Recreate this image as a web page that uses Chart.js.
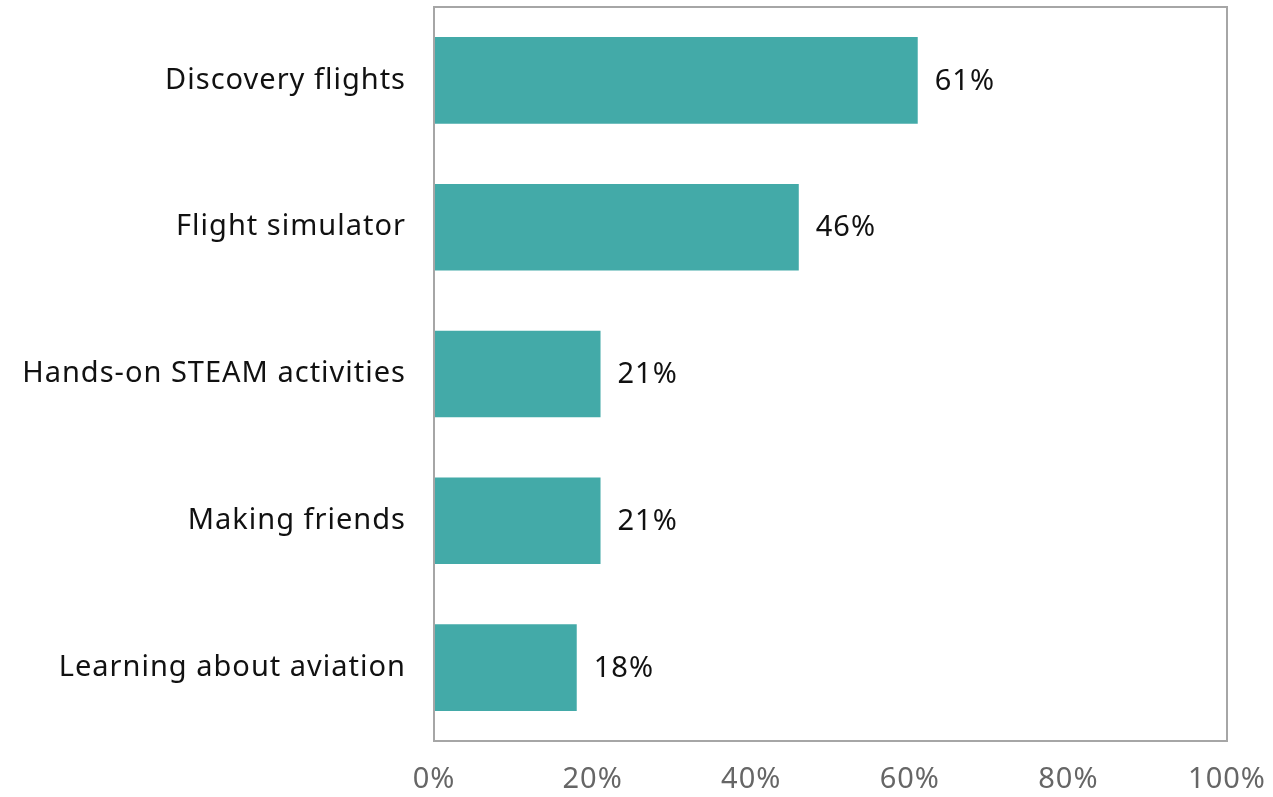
<!DOCTYPE html>
<html>
<head>
<meta charset="utf-8">
<script src="https://cdn.jsdelivr.net/npm/chart.js@4"></script>
<style>
  html, body { margin: 0; padding: 0; background: #fff; }
  #wrap { position: relative; width: 1273px; height: 797px; }
</style>
</head>
<body>
<div id="wrap"><canvas id="chart"></canvas></div>
<script>
// Program activity ratings, horizontal bars with value labels
const categories = [
  'Discovery flights',
  'Flight simulator',
  'Hands-on STEAM activities',
  'Making friends',
  'Learning about aviation'
];
const shares = [61, 46, 21, 21, 18];
const tickValues = [0, 20, 40, 60, 80, 100];

const FONT = '"Noto Sans", Lato, sans-serif';
const SIZE = 29;

function noPadding(scale) {
  scale.paddingLeft = 0;
  scale.paddingRight = 0;
  scale.paddingTop = 0;
  scale.paddingBottom = 0;
}

// slightly airy text, box around the plot area, "NN%" labels after each bar
const extrasPlugin = {
  id: 'extras',
  beforeDraw(chart) {
    chart.ctx.letterSpacing = '1px';
  },
  afterDatasetsDraw(chart) {
    const ctx = chart.ctx;
    const a = chart.chartArea;
    ctx.save();
    ctx.strokeStyle = '#a6a6a6';
    ctx.lineWidth = 2;
    ctx.strokeRect(a.left, a.top, a.right - a.left, a.bottom - a.top);

    ctx.font = SIZE + 'px ' + FONT;
    ctx.fillStyle = '#111';
    ctx.textAlign = 'left';
    ctx.textBaseline = 'middle';
    chart.getDatasetMeta(0).data.forEach((bar, i) => {
      ctx.fillText(shares[i] + '%', bar.x + 17, bar.y + 1);
    });
    ctx.restore();
  }
};

new Chart(document.getElementById('chart'), {
  type: 'bar',
  data: {
    labels: categories,
    datasets: [{
      data: shares,
      backgroundColor: '#43aaa8',
      borderWidth: 0,
      categoryPercentage: 1,
      barPercentage: 0.59
    }]
  },
  options: {
    indexAxis: 'y',
    responsive: true,
    maintainAspectRatio: false,
    animation: false,
    layout: { padding: { top: 7, right: 46, left: 0, bottom: 0 } },
    scales: {
      x: {
        min: 0, max: 100,
        afterBuildTicks(scale) {
          scale.ticks = tickValues.map(v => ({ value: v }));
        },
        afterFit(scale) { scale.height = 56; noPadding(scale); },
        grid: { display: false, drawTicks: false },
        border: { display: false },
        ticks: {
          padding: 21,
          maxRotation: 0,
          color: '#666',
          font: { family: FONT, size: SIZE },
          callback: v => v + '%'
        }
      },
      y: {
        afterFit(scale) { scale.width = 434; noPadding(scale); },
        grid: { display: false, drawTicks: false },
        border: { display: false },
        ticks: {
          padding: 28,
          color: '#111',
          font: { family: FONT, size: SIZE }
        }
      }
    },
    plugins: {
      legend: { display: false },
      tooltip: { enabled: false }
    }
  },
  plugins: [extrasPlugin]
});
</script>
</body>
</html>
